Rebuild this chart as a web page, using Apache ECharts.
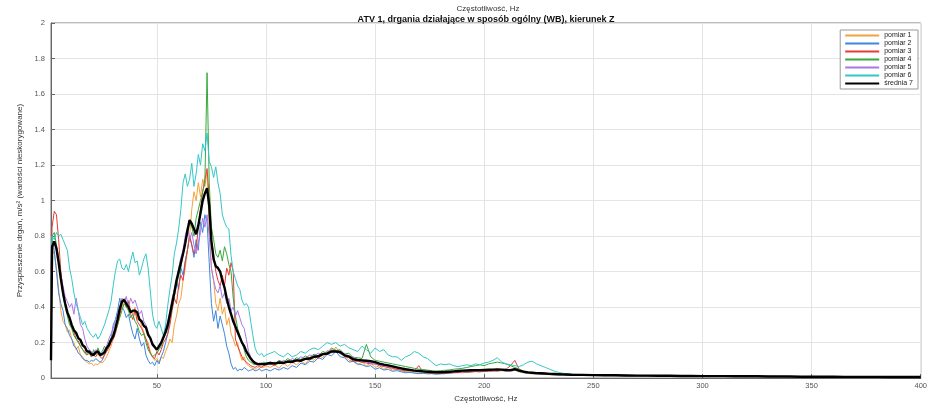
<!DOCTYPE html>
<html>
<head>
<meta charset="utf-8">
<script src="https://cdn.jsdelivr.net/npm/echarts@6/dist/echarts.min.js"></script>
<style>
  html, body { margin: 0; padding: 0; background: #fff; }
  #chart { width: 930px; height: 408px; }
</style>
</head>
<body>
<div id="chart"></div>
<script>
// Frequency bins, Hz: 1.5, 2..100 (1 Hz), 102..240 (2 Hz), 245..400 (5 Hz)
const freq = [
  1.5, 2, 3, 4, 5, 6, 7, 8, 9, 10,
  11, 12, 13, 14, 15, 16, 17, 18, 19, 20,
  21, 22, 23, 24, 25, 26, 27, 28, 29, 30,
  31, 32, 33, 34, 35, 36, 37, 38, 39, 40,
  41, 42, 43, 44, 45, 46, 47, 48, 49, 50,
  51, 52, 53, 54, 55, 56, 57, 58, 59, 60,
  61, 62, 63, 64, 65, 66, 67, 68, 69, 70,
  71, 72, 73, 74, 75, 76, 77, 78, 79, 80,
  81, 82, 83, 84, 85, 86, 87, 88, 89, 90,
  91, 92, 93, 94, 95, 96, 97, 98, 99, 100,
  102, 104, 106, 108, 110, 112, 114, 116, 118, 120,
  122, 124, 126, 128, 130, 132, 134, 136, 138, 140,
  142, 144, 146, 148, 150, 152, 154, 156, 158, 160,
  162, 164, 166, 168, 170, 172, 174, 176, 178, 180,
  182, 184, 186, 188, 190, 192, 194, 196, 198, 200,
  202, 204, 206, 208, 210, 212, 214, 216, 218, 220,
  222, 224, 226, 228, 230, 232, 234, 236, 238, 240,
  245, 250, 255, 260, 265, 270, 275, 280, 285, 290,
  295, 300, 305, 310, 315, 320, 325, 330, 335, 340,
  345, 350, 355, 360, 365, 370, 375, 380, 385, 390,
  395, 400
];

// Acceleration spectra, m/s^2
const pomiar1 = [
  0.45, 0.72, 0.70, 0.62, 0.50, 0.38, 0.32, 0.30, 0.26, 0.27,
  0.22, 0.20, 0.16, 0.18, 0.13, 0.12, 0.10, 0.09, 0.08, 0.085,
  0.07, 0.08, 0.075, 0.09, 0.085, 0.10, 0.12, 0.15, 0.18, 0.22,
  0.27, 0.30, 0.36, 0.40, 0.45, 0.42, 0.44, 0.38, 0.36, 0.40,
  0.33, 0.35, 0.29, 0.26, 0.22, 0.20, 0.15, 0.12, 0.10, 0.11,
  0.09, 0.12, 0.11, 0.15, 0.18, 0.22, 0.20, 0.30, 0.35, 0.42,
  0.45, 0.55, 0.62, 0.72, 0.80, 0.95, 1.05, 1.00, 1.10, 1.02,
  1.12, 1.08, 1.16, 0.85, 0.62, 0.55, 0.42, 0.38, 0.45, 0.36,
  0.40, 0.30, 0.34, 0.25, 0.22, 0.18, 0.20, 0.14, 0.10, 0.12,
  0.08, 0.07, 0.06, 0.055, 0.05, 0.06, 0.055, 0.065, 0.06, 0.07,
  0.06, 0.075, 0.055, 0.085, 0.065, 0.09, 0.075, 0.095, 0.08, 0.11,
  0.10, 0.13, 0.115, 0.15, 0.14, 0.175, 0.14, 0.125, 0.10, 0.095,
  0.075, 0.09, 0.07, 0.085, 0.06, 0.07, 0.05, 0.06, 0.045, 0.05,
  0.04, 0.035, 0.038, 0.03, 0.028, 0.03, 0.025, 0.027, 0.024, 0.026,
  0.028, 0.026, 0.03, 0.032, 0.03, 0.034, 0.033, 0.036, 0.034, 0.038,
  0.036, 0.04, 0.038, 0.042, 0.04, 0.038, 0.044, 0.035, 0.03, 0.026,
  0.024, 0.022, 0.022, 0.02, 0.019, 0.018, 0.018, 0.017, 0.016, 0.016,
  0.015, 0.015, 0.014, 0.014, 0.013, 0.012, 0.012, 0.012, 0.011, 0.011,
  0.010, 0.010, 0.010, 0.009, 0.009, 0.009, 0.008, 0.008, 0.008, 0.008,
  0.007, 0.007, 0.007, 0.007, 0.006, 0.006, 0.006, 0.006, 0.005, 0.005,
  0.005, 0.005
];

const pomiar2 = [
  0.55, 0.78, 0.72, 0.60, 0.48, 0.42, 0.38, 0.30, 0.28, 0.24,
  0.22, 0.18, 0.17, 0.14, 0.13, 0.11, 0.10, 0.10, 0.09, 0.10,
  0.095, 0.11, 0.10, 0.09, 0.10, 0.13, 0.16, 0.20, 0.22, 0.30,
  0.33, 0.38, 0.45, 0.40, 0.38, 0.34, 0.36, 0.30, 0.25, 0.22,
  0.28, 0.22, 0.18, 0.20, 0.13, 0.10, 0.08, 0.09, 0.07, 0.10,
  0.08, 0.12, 0.15, 0.20, 0.25, 0.33, 0.42, 0.48, 0.55, 0.50,
  0.62, 0.58, 0.66, 0.72, 0.80, 0.75, 0.68, 0.78, 0.72, 0.88,
  0.82, 0.92, 0.88, 0.65, 0.42, 0.32, 0.38, 0.28, 0.35, 0.30,
  0.25, 0.18, 0.14, 0.08, 0.05, 0.06, 0.04, 0.05, 0.045, 0.06,
  0.05, 0.04, 0.045, 0.05, 0.04, 0.045, 0.05, 0.04, 0.045, 0.05,
  0.04, 0.055, 0.045, 0.06, 0.05, 0.07, 0.06, 0.085, 0.075, 0.095,
  0.09, 0.115, 0.105, 0.135, 0.125, 0.15, 0.12, 0.115, 0.09, 0.095,
  0.08, 0.075, 0.065, 0.07, 0.05, 0.058, 0.045, 0.05, 0.038, 0.042,
  0.035, 0.03, 0.032, 0.028, 0.025, 0.027, 0.024, 0.025, 0.022, 0.024,
  0.025, 0.028, 0.03, 0.032, 0.035, 0.033, 0.036, 0.038, 0.036, 0.04,
  0.042, 0.04, 0.045, 0.043, 0.04, 0.042, 0.046, 0.038, 0.032, 0.028,
  0.026, 0.024, 0.023, 0.022, 0.02, 0.019, 0.018, 0.018, 0.017, 0.016,
  0.016, 0.015, 0.015, 0.014, 0.014, 0.013, 0.013, 0.012, 0.012, 0.011,
  0.011, 0.011, 0.010, 0.010, 0.010, 0.009, 0.009, 0.009, 0.008, 0.008,
  0.008, 0.008, 0.007, 0.007, 0.007, 0.007, 0.006, 0.006, 0.006, 0.006,
  0.005, 0.005
];

const pomiar3 = [
  0.60, 0.85, 0.94, 0.92, 0.78, 0.60, 0.50, 0.42, 0.36, 0.32,
  0.28, 0.26, 0.22, 0.21, 0.18, 0.16, 0.15, 0.13, 0.14, 0.12,
  0.13, 0.12, 0.14, 0.12, 0.11, 0.13, 0.15, 0.17, 0.20, 0.22,
  0.25, 0.30, 0.35, 0.42, 0.44, 0.40, 0.43, 0.36, 0.33, 0.38,
  0.32, 0.30, 0.28, 0.25, 0.22, 0.18, 0.14, 0.12, 0.11, 0.15,
  0.13, 0.16, 0.20, 0.22, 0.25, 0.30, 0.38, 0.45, 0.42, 0.52,
  0.58, 0.55, 0.65, 0.72, 0.80, 0.75, 0.70, 0.72, 0.85, 0.95,
  1.05, 1.12, 1.18, 1.02, 0.78, 0.70, 0.60, 0.55, 0.52, 0.58,
  0.52, 0.62, 0.58, 0.65, 0.60, 0.22, 0.18, 0.15, 0.12, 0.10,
  0.09, 0.08, 0.07, 0.065, 0.06, 0.07, 0.065, 0.06, 0.07, 0.075,
  0.08, 0.07, 0.095, 0.08, 0.10, 0.085, 0.105, 0.095, 0.11, 0.10,
  0.125, 0.11, 0.14, 0.13, 0.16, 0.15, 0.145, 0.12, 0.115, 0.095,
  0.095, 0.09, 0.085, 0.08, 0.08, 0.07, 0.065, 0.06, 0.055, 0.05,
  0.045, 0.04, 0.045, 0.04, 0.07, 0.035, 0.03, 0.028, 0.03, 0.027,
  0.028, 0.03, 0.032, 0.03, 0.035, 0.034, 0.036, 0.038, 0.04, 0.038,
  0.04, 0.042, 0.04, 0.045, 0.05, 0.07, 0.10, 0.05, 0.035, 0.03,
  0.028, 0.026, 0.025, 0.023, 0.022, 0.021, 0.02, 0.019, 0.018, 0.018,
  0.017, 0.016, 0.015, 0.015, 0.014, 0.014, 0.013, 0.013, 0.012, 0.012,
  0.011, 0.011, 0.011, 0.010, 0.010, 0.010, 0.009, 0.009, 0.009, 0.008,
  0.008, 0.008, 0.008, 0.007, 0.007, 0.007, 0.007, 0.006, 0.006, 0.006,
  0.006, 0.005
];

const pomiar4 = [
  0.50, 0.80, 0.82, 0.75, 0.68, 0.58, 0.46, 0.40, 0.35, 0.30,
  0.28, 0.24, 0.22, 0.20, 0.18, 0.16, 0.14, 0.13, 0.15, 0.12,
  0.16, 0.13, 0.17, 0.14, 0.15, 0.18, 0.16, 0.20, 0.22, 0.25,
  0.26, 0.30, 0.34, 0.38, 0.42, 0.40, 0.38, 0.34, 0.36, 0.32,
  0.30, 0.26, 0.24, 0.25, 0.20, 0.16, 0.14, 0.12, 0.13, 0.14,
  0.16, 0.18, 0.22, 0.25, 0.28, 0.34, 0.40, 0.46, 0.52, 0.58,
  0.62, 0.70, 0.75, 0.82, 0.88, 0.85, 0.80, 0.90, 0.95, 1.00,
  1.05, 1.10, 1.72, 1.10, 0.85, 0.78, 0.70, 0.68, 0.72, 0.66,
  0.74, 0.70, 0.64, 0.60, 0.45, 0.35, 0.28, 0.24, 0.20, 0.16,
  0.12, 0.10, 0.09, 0.08, 0.075, 0.08, 0.085, 0.08, 0.09, 0.085,
  0.09, 0.08, 0.10, 0.09, 0.11, 0.095, 0.115, 0.105, 0.125, 0.115,
  0.135, 0.125, 0.15, 0.14, 0.17, 0.155, 0.16, 0.135, 0.14, 0.115,
  0.115, 0.11, 0.19, 0.12, 0.10, 0.095, 0.09, 0.085, 0.08, 0.075,
  0.07, 0.065, 0.06, 0.055, 0.05, 0.048, 0.045, 0.042, 0.04, 0.042,
  0.044, 0.046, 0.05, 0.052, 0.055, 0.06, 0.065, 0.07, 0.075, 0.07,
  0.08, 0.085, 0.09, 0.085, 0.08, 0.07, 0.06, 0.05, 0.04, 0.035,
  0.032, 0.03, 0.028, 0.026, 0.025, 0.024, 0.022, 0.021, 0.02, 0.019,
  0.018, 0.017, 0.017, 0.016, 0.015, 0.015, 0.014, 0.014, 0.013, 0.013,
  0.012, 0.012, 0.011, 0.011, 0.011, 0.010, 0.010, 0.010, 0.009, 0.009,
  0.009, 0.008, 0.008, 0.008, 0.008, 0.007, 0.007, 0.007, 0.007, 0.006,
  0.006, 0.006
];

const pomiar5 = [
  0.45, 0.70, 0.76, 0.72, 0.66, 0.58, 0.52, 0.46, 0.43, 0.40,
  0.42, 0.36, 0.45, 0.38, 0.30, 0.28, 0.22, 0.18, 0.16, 0.15,
  0.14, 0.16, 0.15, 0.13, 0.14, 0.16, 0.18, 0.22, 0.25, 0.28,
  0.32, 0.36, 0.40, 0.45, 0.43, 0.46, 0.40, 0.45, 0.42, 0.44,
  0.40, 0.36, 0.38, 0.32, 0.30, 0.26, 0.22, 0.20, 0.18, 0.16,
  0.17, 0.20, 0.22, 0.28, 0.32, 0.38, 0.45, 0.50, 0.55, 0.62,
  0.68, 0.72, 0.80, 0.85, 0.78, 0.82, 0.75, 0.70, 0.76, 0.82,
  0.90, 0.85, 0.92, 0.80, 0.62, 0.55, 0.50, 0.48, 0.52, 0.45,
  0.48, 0.42, 0.45, 0.38, 0.40, 0.35, 0.38, 0.34, 0.30, 0.28,
  0.22, 0.15, 0.12, 0.10, 0.09, 0.085, 0.08, 0.075, 0.08, 0.085,
  0.075, 0.09, 0.08, 0.10, 0.09, 0.11, 0.10, 0.12, 0.11, 0.13,
  0.125, 0.14, 0.13, 0.155, 0.145, 0.16, 0.135, 0.14, 0.115, 0.12,
  0.10, 0.095, 0.09, 0.085, 0.08, 0.075, 0.07, 0.065, 0.06, 0.055,
  0.05, 0.045, 0.042, 0.04, 0.038, 0.036, 0.034, 0.033, 0.032, 0.033,
  0.034, 0.035, 0.036, 0.038, 0.04, 0.038, 0.04, 0.042, 0.04, 0.042,
  0.044, 0.045, 0.044, 0.043, 0.042, 0.04, 0.045, 0.04, 0.034, 0.03,
  0.028, 0.026, 0.025, 0.024, 0.023, 0.022, 0.021, 0.02, 0.019, 0.018,
  0.017, 0.016, 0.016, 0.015, 0.014, 0.014, 0.013, 0.013, 0.012, 0.012,
  0.011, 0.011, 0.011, 0.010, 0.010, 0.010, 0.009, 0.009, 0.009, 0.008,
  0.008, 0.008, 0.008, 0.007, 0.007, 0.007, 0.007, 0.006, 0.006, 0.006,
  0.006, 0.005
];

const pomiar6 = [
  0.65, 0.80, 0.78, 0.82, 0.80, 0.81, 0.78, 0.75, 0.72, 0.62,
  0.56, 0.48, 0.42, 0.38, 0.34, 0.30, 0.32, 0.28, 0.26, 0.24,
  0.23, 0.25, 0.22, 0.24, 0.27, 0.30, 0.34, 0.38, 0.43, 0.52,
  0.60, 0.66, 0.67, 0.62, 0.61, 0.64, 0.60, 0.66, 0.71, 0.65,
  0.66, 0.58, 0.62, 0.67, 0.70, 0.62, 0.49, 0.36, 0.30, 0.28,
  0.32, 0.28, 0.24, 0.30, 0.41, 0.50, 0.58, 0.70, 0.76, 0.84,
  0.95, 1.10, 1.15, 1.08, 1.12, 1.21, 1.08, 1.15, 1.26, 1.20,
  1.32, 1.28, 1.38, 1.22, 1.19, 1.13, 1.19, 1.10, 1.04, 0.92,
  0.88, 0.85, 0.84, 0.69, 0.60, 0.56, 0.52, 0.50, 0.44, 0.41,
  0.42, 0.40, 0.32, 0.24, 0.17, 0.14, 0.13, 0.14, 0.12, 0.13,
  0.14, 0.15, 0.13, 0.12, 0.14, 0.12, 0.13, 0.15, 0.14, 0.16,
  0.17, 0.16, 0.18, 0.20, 0.19, 0.20, 0.18, 0.19, 0.17, 0.16,
  0.15, 0.18, 0.16, 0.14, 0.17, 0.15, 0.16, 0.13, 0.12, 0.12,
  0.10, 0.12, 0.13, 0.15, 0.14, 0.12, 0.11, 0.09, 0.07, 0.08,
  0.075, 0.08, 0.07, 0.065, 0.07, 0.075, 0.07, 0.08, 0.075, 0.085,
  0.09, 0.10, 0.115, 0.09, 0.08, 0.075, 0.07, 0.065, 0.075, 0.09,
  0.095, 0.08, 0.07, 0.06, 0.05, 0.04, 0.032, 0.028, 0.024, 0.022,
  0.020, 0.018, 0.017, 0.016, 0.016, 0.015, 0.015, 0.014, 0.014, 0.013,
  0.013, 0.012, 0.012, 0.011, 0.011, 0.011, 0.010, 0.010, 0.010, 0.009,
  0.009, 0.009, 0.008, 0.008, 0.008, 0.008, 0.007, 0.007, 0.007, 0.007,
  0.006, 0.006
];

const srednia7 = [
  0.10, 0.74, 0.77, 0.73, 0.65, 0.56, 0.48, 0.42, 0.37, 0.34,
  0.30, 0.27, 0.255, 0.225, 0.215, 0.185, 0.175, 0.15, 0.15, 0.135,
  0.13, 0.145, 0.15, 0.13, 0.135, 0.145, 0.17, 0.185, 0.215, 0.235,
  0.28, 0.33, 0.39, 0.43, 0.44, 0.42, 0.40, 0.37, 0.38, 0.38,
  0.37, 0.33, 0.32, 0.295, 0.285, 0.245, 0.225, 0.19, 0.175, 0.16,
  0.18, 0.20, 0.23, 0.26, 0.30, 0.36, 0.42, 0.48, 0.55, 0.60,
  0.65, 0.70, 0.76, 0.83, 0.89, 0.87, 0.84, 0.81, 0.86, 0.93,
  1.00, 1.04, 1.07, 0.97, 0.77, 0.67, 0.63, 0.62, 0.60, 0.55,
  0.51, 0.45, 0.40, 0.36, 0.32, 0.29, 0.26, 0.23, 0.20, 0.18,
  0.15, 0.13, 0.11, 0.095, 0.085, 0.08, 0.078, 0.08, 0.078, 0.08,
  0.085, 0.082, 0.088, 0.086, 0.093, 0.092, 0.10, 0.098, 0.108, 0.11,
  0.12, 0.123, 0.135, 0.138, 0.15, 0.15, 0.147, 0.128, 0.122, 0.106,
  0.102, 0.10, 0.098, 0.095, 0.09, 0.082, 0.076, 0.072, 0.066, 0.06,
  0.055, 0.05, 0.046, 0.042, 0.04, 0.038, 0.036, 0.034, 0.033, 0.033,
  0.034, 0.036, 0.038, 0.04, 0.042, 0.043, 0.044, 0.045, 0.045, 0.046,
  0.047, 0.048, 0.049, 0.048, 0.046, 0.045, 0.05, 0.042, 0.036, 0.032,
  0.03, 0.028, 0.027, 0.026, 0.024, 0.023, 0.022, 0.021, 0.02, 0.019,
  0.018, 0.017, 0.016, 0.016, 0.015, 0.014, 0.014, 0.013, 0.013, 0.012,
  0.012, 0.011, 0.011, 0.011, 0.010, 0.010, 0.010, 0.009, 0.009, 0.009,
  0.008, 0.008, 0.008, 0.008, 0.007, 0.007, 0.007, 0.007, 0.006, 0.006,
  0.006, 0.006
];

const seriesNames = ['pomiar 1', 'pomiar 2', 'pomiar 3', 'pomiar 4', 'pomiar 5', 'pomiar 6', 'średnia 7'];
const seriesValues = [pomiar1, pomiar2, pomiar3, pomiar4, pomiar5, pomiar6, srednia7];
const seriesColors = ['#f4a23c', '#3f86dc', '#e83a3a', '#3aa83a', '#a878e6', '#35c6c6', '#000000'];

const xTicks = [50, 100, 150, 200, 250, 300, 350, 400];

const FONT = 'Liberation Sans, Arial, sans-serif';

const chart = echarts.init(document.getElementById('chart'), null, { renderer: 'canvas' });

const series = seriesNames.map((name, k) => ({
  name: name,
  type: 'line',
  symbol: 'none',
  animation: false,
  data: freq.map((f, i) => [f, seriesValues[k][i]]),
  lineStyle: { width: k === 6 ? 2.4 : 1, color: seriesColors[k] },
  itemStyle: { color: seriesColors[k] },
  z: k === 6 ? 5 : 2
}));

chart.setOption({
  animation: false,
  backgroundColor: '#ffffff',
  textStyle: { fontFamily: FONT },
  title: [
    {
      text: 'Częstotliwość, Hz',
      left: 483, top: 0, textAlign: 'center',
      textStyle: { fontSize: 8, fontWeight: 'normal', color: '#333', fontFamily: FONT }
    },
    {
      text: 'ATV 1, drgania działające w sposób ogólny (WB), kierunek Z',
      left: 481, top: 10, textAlign: 'center',
      textStyle: { fontSize: 9, fontWeight: 'bold', color: '#111', fontFamily: FONT }
    }
  ],
  legend: {
    orient: 'vertical',
    right: 12, top: 30,
    itemWidth: 34, itemHeight: 2,
    itemGap: 1,
    padding: [2, 5, 2, 5],
    backgroundColor: '#fff',
    borderColor: '#999', borderWidth: 1,
    textStyle: { fontSize: 7, color: '#222', fontFamily: FONT },
    data: seriesNames.map((n, k) => ({ name: n, icon: 'rect', itemStyle: { color: seriesColors[k] } }))
  },
  grid: { left: 51, right: 8, top: 23, bottom: 24, show: true, borderColor: '#777', borderWidth: 1 },
  xAxis: {
    type: 'value',
    min: 1.5, max: 400,
    name: 'Częstotliwość, Hz',
    nameLocation: 'middle', nameGap: 14,
    nameTextStyle: { fontSize: 8, color: '#333', fontFamily: FONT },
    axisLine: { show: true, lineStyle: { color: '#666' } },
    axisTick: { show: true, inside: true, length: 4, customValues: xTicks, lineStyle: { color: '#666' } },
    axisLabel: { customValues: xTicks, fontSize: 7.5, color: '#555', margin: 4, fontFamily: FONT },
    splitLine: { show: true, lineStyle: { color: '#e4e4e4', width: 1 } }
  },
  yAxis: {
    type: 'value',
    min: 0, max: 2, interval: 0.2,
    name: 'Przyspieszenie drgań, m/s² (wartości nieskorygowane)',
    nameLocation: 'middle', nameGap: 26,
    nameTextStyle: { fontSize: 8, color: '#333', fontFamily: FONT },
    axisLine: { show: true, lineStyle: { color: '#666' } },
    axisTick: { show: true, inside: true, length: 4, lineStyle: { color: '#666' } },
    axisLabel: { fontSize: 7.5, color: '#555', margin: 6, fontFamily: FONT },
    splitLine: { show: true, lineStyle: { color: '#e4e4e4', width: 1 } }
  },
  series: series
});
</script>
</body>
</html>
